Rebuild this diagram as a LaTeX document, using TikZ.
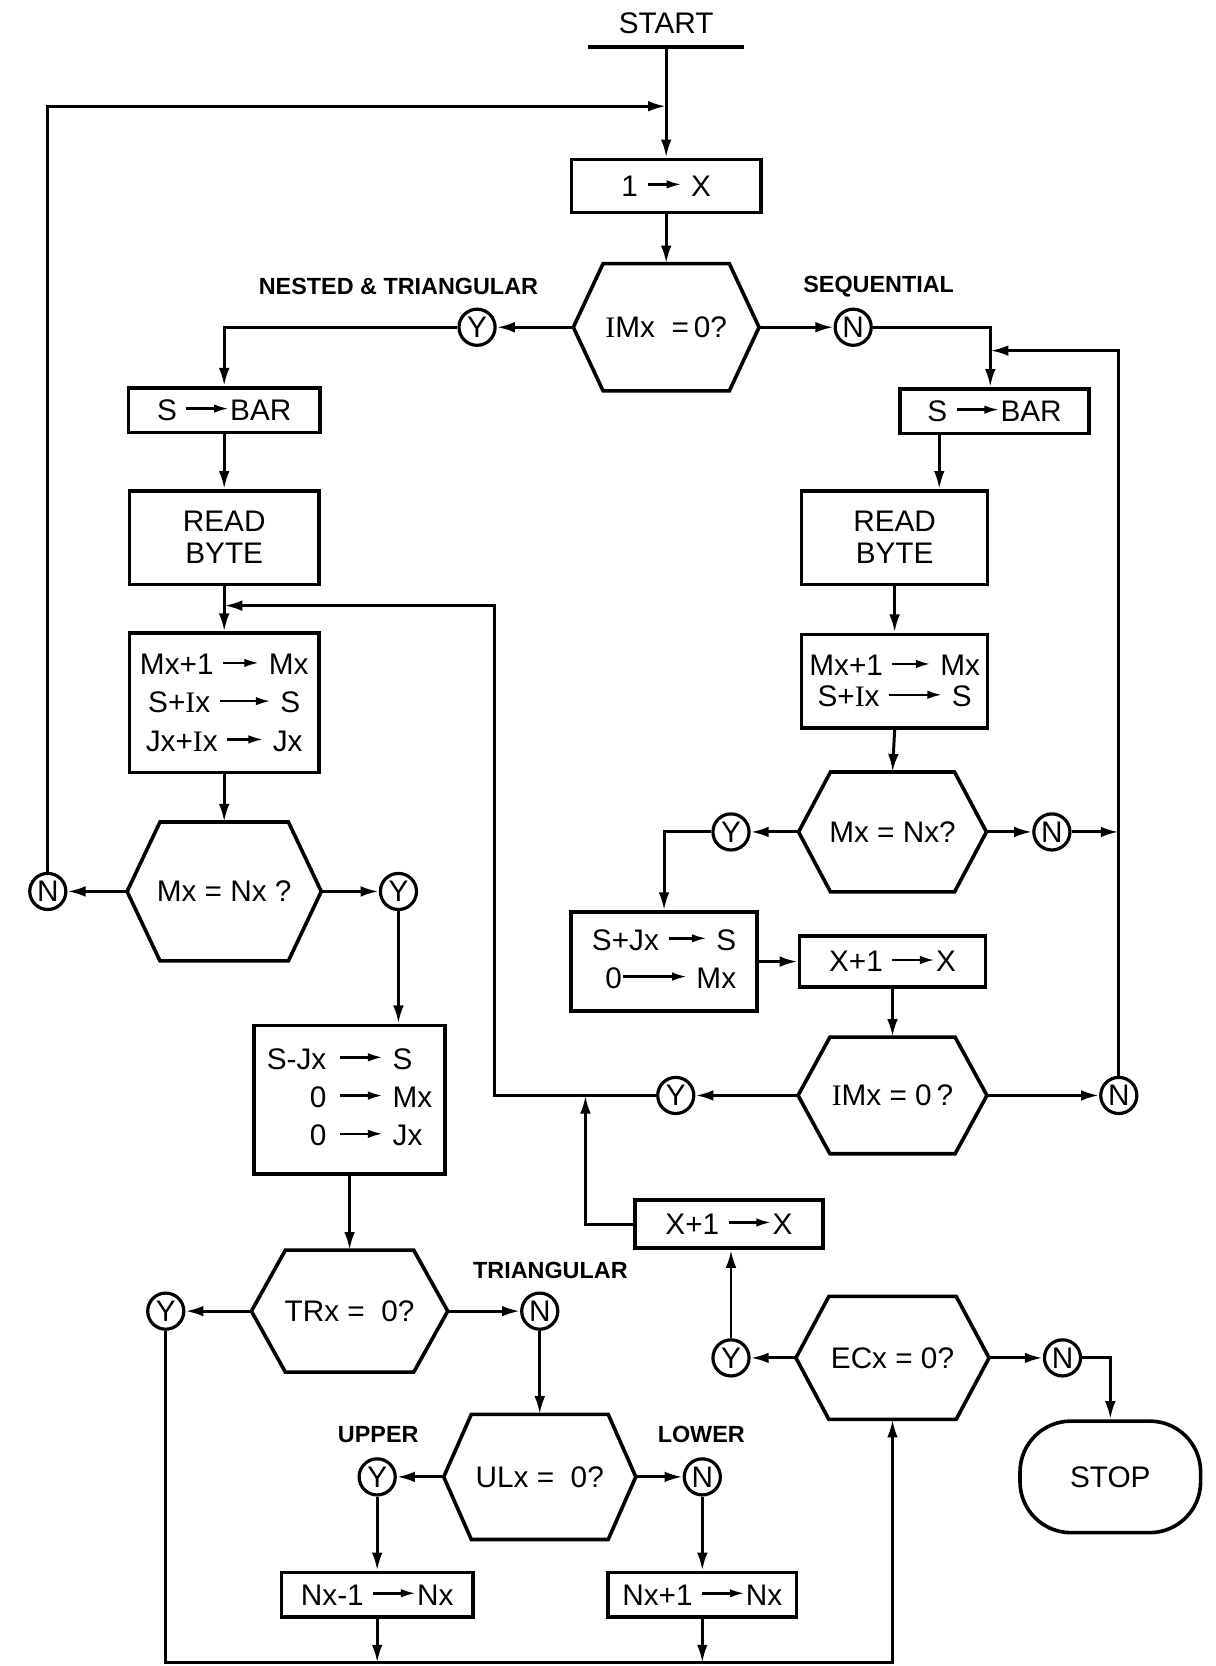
\documentclass[tikz,border=0pt]{standalone}
\usepackage{fontspec}
\setmainfont{Liberation Sans}
\newfontfamily\serifI{Liberation Serif}
\usetikzlibrary{arrows.meta,calc}
\newcommand\sI{{\serifI I}}
\newcommand\ta[1][20pt]{\tikz[baseline=-0.75ex]\draw[line width=1.2pt,-{Latex[length=7pt,width=4pt]}](0pt,0pt)--(#1,0pt);}
\newcommand\hexdraw[2]{\draw[line width=1.7pt] ([xshift=#2]#1.north west) -- ([xshift=-#2]#1.north east) -- (#1.east) -- ([xshift=-#2]#1.south east) -- ([xshift=#2]#1.south west) -- (#1.west) -- cycle;}
\begin{document}
\begin{tikzpicture}[x=0.5pt,y=-0.5pt,line width=1.4pt,
  arr/.style={-{Latex[length=8.5pt,width=5pt]}},
  box/.style={draw,line width=1.7pt,inner sep=0pt,font=\fontsize{14}{18}\selectfont,align=center},
  hexn/.style={inner sep=0pt,font=\fontsize{14}{18}\selectfont},
  yn/.style={draw,circle,line width=1.5pt,minimum size=17pt,inner sep=0pt,font=\fontsize{14}{14}\selectfont},
  lab/.style={font=\bfseries\fontsize{11}{11}\selectfont},
  stopbox/.style={draw,line width=1.7pt,rounded corners=24pt,inner sep=0pt,font=\fontsize{14}{18}\selectfont}]
\fill[white] (0,0) rectangle (1144,1568);
\useasboundingbox (0,0) rectangle (1144,1568);

% start
\node[font=\fontsize{14}{18}\selectfont] (start) at (627,22) {START};
\coordinate (barL) at (553,44);
\coordinate (barR) at (700,44);
\coordinate (s0) at (627,44);
\draw[line width=2pt] (barL) -- (barR);
\coordinate (jTop) at (627,100);

% top
\node[box,minimum width=89pt,minimum height=25pt] (b1) at (627,175) {1 \ta[16pt] X};
\node[hexn,minimum width=86pt,minimum height=58.5pt] (H1) at (627,308) {\sI Mx\ \ =\,0?};
\hexdraw{H1}{14pt}
\node[yn] (cY1) at (449,308) {Y};
\node[yn] (cN1) at (803,308) {N};
\node[lab] (l1) at (375,270) {NESTED \& TRIANGULAR};
\node[lab] (l2) at (827,270) {SEQUENTIAL};

% left column
\node[box,minimum width=90pt,minimum height=21pt] (bL1) at (211,386) {S \ta BAR};
\node[box,minimum width=89pt,minimum height=44pt,font=\fontsize{14}{15}\selectfont] (bL2) at (211,506) {READ\\BYTE};
\node[box,minimum width=89pt,minimum height=65.5pt] (bL3) at (211,661.5) {Mx+1 \ta[17pt] Mx\\ S+\sI x \ta[24pt] S\\ Jx+\sI x \ta[17pt] Jx};
\node[hexn,minimum width=90pt,minimum height=64pt] (H2) at (211,839) {Mx = Nx ?};
\hexdraw{H2}{15.5pt}
\node[yn] (cN2) at (45,839) {N};
\node[yn] (cY2) at (375,839) {Y};
\node[box,minimum width=90pt,minimum height=70pt] (bL4) at (329,1035) {\begin{tabular}{@{}r@{\hspace{6pt}}c@{\hspace{4pt}}l@{}}S-Jx & \ta & S\\ 0 & \ta & Mx\\ 0 & \ta & Jx\end{tabular}};
\node[hexn,minimum width=91pt,minimum height=56pt] (H3) at (329,1234) {TRx = \ 0?};
\hexdraw{H3}{16pt}
\node[yn] (cY3) at (156,1234) {Y};
\node[yn] (cN3) at (508,1234) {N};
\node[lab] (l3) at (518,1196) {TRIANGULAR};
\node[hexn,minimum width=89pt,minimum height=57.5pt] (H4) at (508,1390) {ULx = \ 0?};
\hexdraw{H4}{13pt}
\node[yn] (cY4) at (355,1390) {Y};
\node[yn] (cN4) at (661,1390) {N};
\node[lab] (l4) at (356,1350) {UPPER};
\node[lab] (l5) at (660,1350) {LOWER};
\node[box,minimum width=90pt,minimum height=21pt] (bN1) at (355,1501) {Nx-1 \ta Nx};
\node[box,minimum width=88.5pt,minimum height=21pt] (bN2) at (661,1501) {Nx+1 \ta Nx};
\coordinate (bot) at (840,1565);

% right column
\node[box,minimum width=89pt,minimum height=21pt] (bR1) at (936,387) {S \ta BAR};
\node[box,minimum width=87.5pt,minimum height=44pt,font=\fontsize{14}{15}\selectfont] (bR2) at (842,506) {READ\\BYTE};
\node[box,minimum width=87.5pt,minimum height=44pt,font=\fontsize{14}{14.5}\selectfont] (bR3) at (842,641) {Mx+1 \ta[18pt] Mx\\ S+\sI x \ta[25pt] S};
\node[hexn,minimum width=87pt,minimum height=55pt] (H5) at (840,783) {Mx = Nx?};
\hexdraw{H5}{15pt}
\node[yn] (cY5) at (688,783) {Y};
\node[yn] (cN5) at (990,783) {N};
\node[box,minimum width=87.5pt,minimum height=46.5pt] (bR4) at (625,905) {\begin{tabular}{@{}r@{}}S+Jx \ta[18pt] S\\ 0\ta[30pt] Mx\end{tabular}};
\node[box,minimum width=87.5pt,minimum height=24pt] (bR5) at (840,905) {X+1 \ta X};
\node[hexn,minimum width=87.5pt,minimum height=53.5pt] (H7) at (840,1031) {\sI Mx = 0\,?};
\hexdraw{H7}{15pt}
\node[yn] (cY7) at (636,1031) {Y};
\node[yn] (cN7) at (1053,1031) {N};
\node[box,minimum width=88.5pt,minimum height=22.5pt] (bR6) at (686,1152) {X+1 \ta X};
\node[hexn,minimum width=89.5pt,minimum height=56.5pt] (H6) at (840,1278) {ECx = 0?};
\hexdraw{H6}{15.5pt}
\node[yn] (cY6) at (688,1278) {Y};
\node[yn] (cN6) at (1000,1278) {N};
\node[stopbox,minimum width=85pt,minimum height=52.5pt] (stop) at (1045,1390) {STOP};

\coordinate (xE) at (932,0);
\coordinate (xR) at (884,0);
\coordinate (jR) at (932,330);
\coordinate (jL) at (211,570);
\coordinate (jL2) at (465,570);
\coordinate (jV) at (551,1031);

% connectors
\draw[arr] (s0) -- (b1.north);
\draw[arr] (cN2.north) |- (jTop);
\draw[arr] (b1.south) -- (H1.north);
\draw[arr] (H1.west) -- (cY1);
\draw[arr] (H1.east) -- (cN1);
\draw[arr] (cY1.west) -| (bL1.north);
\draw[arr] (cN1.east) -| (bR1.north -| xE);
\draw[arr] (cN7.north) |- (jR);
\draw[arr] (bL1.south) -- (bL2.north);
\draw[arr] (bL2.south) -- (bL3.north);
\draw[arr] (cY7.west) -| (jL2) -- (jL);
\draw[arr] (bL3.south) -- (H2.north);
\draw[arr] (H2.west) -- (cN2);
\draw[arr] (H2.east) -- (cY2);
\draw[arr] (cY2.south) -- (cY2 |- bL4.north);
\draw[arr] (bL4.south) -- (H3.north);
\draw[arr] (H3.west) -- (cY3);
\draw[arr] (H3.east) -- (cN3);
\draw[arr] (cN3.south) -- (H4.north);
\draw[arr] (H4.west) -- (cY4);
\draw[arr] (H4.east) -- (cN4);
\draw[arr] (cY4.south) -- (bN1.north);
\draw[arr] (cN4.south) -- (bN2.north);
\draw[arr] (cY3.south) |- (bot) -- (H6.south);
\draw[arr] (bN1.south) -- (bN1.south |- bot);
\draw[arr] (bN2.south) -- (bN2.south |- bot);
\draw[arr] (bR1.south -| xR) -- (bR2.north -| xR);
\draw[arr] (bR2.south) -- (bR3.north);
\draw[arr] (bR3.south) -- (H5.north);
\draw[arr] (H5.west) -- (cY5);
\draw[arr] (H5.east) -- (cN5);
\draw[arr] (cN5.east) -- (cN5 -| cN7);
\draw[arr] (cY5.west) -| (bR4.north);
\draw[arr] (bR4.east) -- (bR5.west);
\draw[arr] (bR5.south) -- (H7.north);
\draw[arr] (H7.west) -- (cY7);
\draw[arr] (H7.east) -- (cN7);
\draw[arr] (bR6.west) -| (jV);
\draw[arr] (H6.west) -- (cY6);
\draw[arr] (cY6.north) -- (cY6 |- bR6.south);
\draw[arr] (H6.east) -- (cN6);
\draw[arr] (cN6.east) -| (stop.north);
\end{tikzpicture}
\end{document}
